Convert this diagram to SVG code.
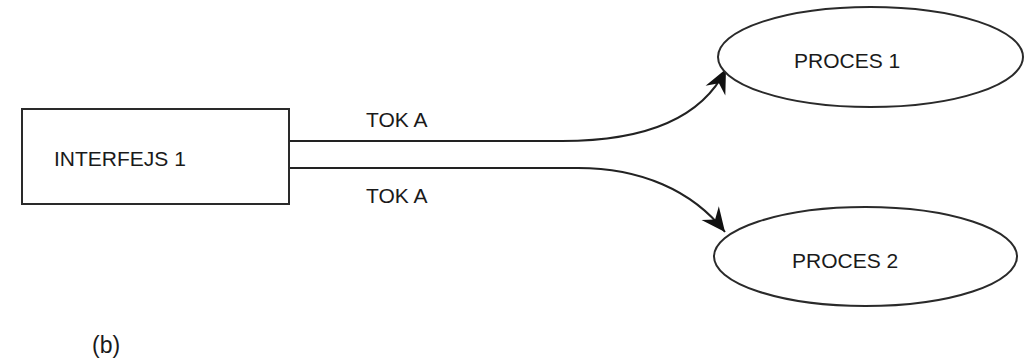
<svg xmlns="http://www.w3.org/2000/svg" width="1036" height="363" viewBox="0 0 1036 363">
<style>
.node{fill:#fff;stroke:#2a2a2a;stroke-width:2}
.lbl{font-family:"Liberation Sans",Arial,sans-serif;font-size:21px;fill:#1a1a1a}
.edge{fill:none;stroke:#222;stroke-width:2}
</style>
<defs>
<marker id="arr" markerUnits="userSpaceOnUse" viewBox="-26 -13 28 26" refX="0" refY="0" markerWidth="28" markerHeight="26" orient="auto">
<path d="M0,0 L-24,-11 L-16,0 L-24,11 Z" fill="#111"/>
</marker>
</defs>
<rect width="1036" height="363" fill="#fff"/>
<g id="connectors">
<path class="edge" d="M289,141 L562,141 C640,141 700,122 726,69" marker-end="url(#arr)"/>
<path class="edge" d="M289,168 L578,168 C640,168 692,190 725,232" marker-end="url(#arr)"/>
<text class="lbl" x="366" y="127">TOK A</text>
<text class="lbl" x="366" y="203">TOK A</text>
</g>
<g id="interfejs1">
<rect class="node" x="22" y="109" width="267" height="95"/>
<text class="lbl" x="54" y="166">INTERFEJS 1</text>
</g>
<g id="proces1">
<ellipse class="node" cx="870.5" cy="57" rx="152.5" ry="50"/>
<text class="lbl" x="794" y="68">PROCES 1</text>
</g>
<g id="proces2">
<ellipse class="node" cx="865.5" cy="256.5" rx="151.5" ry="49.5"/>
<text class="lbl" x="792" y="268">PROCES 2</text>
</g>
<g id="caption">
<text class="lbl" x="92" y="353" style="font-size:23px">(b)</text>
</g>
</svg>
